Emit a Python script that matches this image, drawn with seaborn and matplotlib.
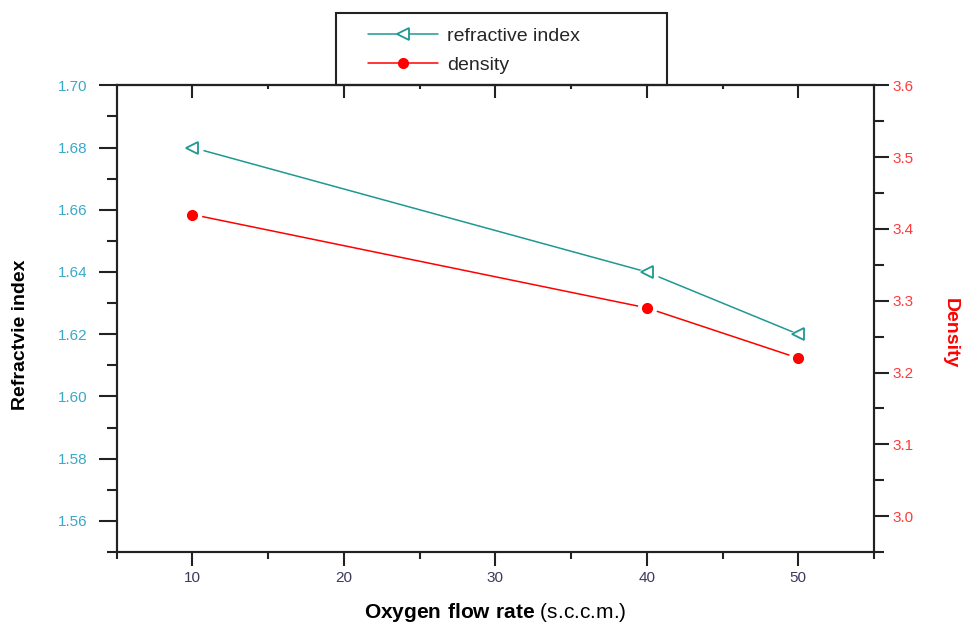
import matplotlib
matplotlib.use("Agg")
import matplotlib.pyplot as plt
import seaborn as sns
from matplotlib.ticker import MultipleLocator, FormatStrFormatter
from matplotlib.lines import Line2D
from matplotlib.patches import Rectangle

# Measured film properties versus oxygen flow rate
flow_rate = [10, 40, 50]
refractive_index = [1.68, 1.64, 1.62]
density = [3.42, 3.29, 3.22]

series_labels = ["refractive index", "density"]

sns.set_style("ticks")
plt.rcParams["font.family"] = ["Liberation Sans", "DejaVu Sans"]
plt.rcParams["mathtext.fontset"] = "custom"
plt.rcParams["mathtext.rm"] = "Liberation Sans"
plt.rcParams["mathtext.bf"] = "Liberation Sans:bold"

TEAL = "#1f9892"
RED = "#ff0000"
AXIS = "#222222"

fig = plt.figure(figsize=(9.62, 6.28), dpi=100)
ax = fig.add_axes([0.1213, 0.1210, 0.7872, 0.7432])
ax2 = ax.twinx()

# lines
sns.lineplot(x=flow_rate, y=refractive_index, ax=ax, color=TEAL, lw=1.1, zorder=2)
sns.lineplot(x=flow_rate, y=density, ax=ax2, color=RED, lw=1.1, zorder=2)

# white backing markers open a small gap in the line around each symbol
ax.plot(flow_rate, refractive_index, ls="none", marker="<", ms=16,
        mfc="white", mec="none", zorder=3)
ax.plot(flow_rate, refractive_index, ls="none", marker="<", ms=8.5,
        mfc="white", mec=TEAL, mew=1.3, zorder=4)
ax2.plot(flow_rate, density, ls="none", marker="o", ms=14,
         mfc="white", mec="none", zorder=3)
ax2.plot(flow_rate, density, ls="none", marker="o", ms=7,
         mfc=RED, mec=RED, zorder=4)

# limits and ticks
ax.set_xlim(5, 55)
ax.set_ylim(1.55, 1.70)
ax2.set_ylim(2.95, 3.6)

ax.xaxis.set_major_locator(MultipleLocator(10))
ax.xaxis.set_minor_locator(MultipleLocator(5))
ax.yaxis.set_major_locator(MultipleLocator(0.02))
ax.yaxis.set_minor_locator(MultipleLocator(0.01))
ax.yaxis.set_major_formatter(FormatStrFormatter("%.2f"))
ax2.yaxis.set_major_locator(MultipleLocator(0.1))
ax2.yaxis.set_minor_locator(MultipleLocator(0.05))
ax2.yaxis.set_major_formatter(FormatStrFormatter("%.1f"))

for a in (ax, ax2):
    for sp in a.spines.values():
        sp.set_visible(True)
        sp.set_color(AXIS)
        sp.set_linewidth(1.5)

ax.tick_params(axis="x", which="major", direction="out", length=10, width=1.5,
               color=AXIS, labelsize=11, labelcolor="#3a3a5c", pad=4)
ax.tick_params(axis="x", which="minor", direction="out", length=5, width=1.5, color=AXIS)
ax.tick_params(axis="y", which="major", direction="out", length=13, width=1.5,
               color=AXIS, labelsize=11, labelcolor="#3aa8c8", pad=8)
ax.tick_params(axis="y", which="minor", direction="out", length=7, width=1.5, color=AXIS)
ax2.tick_params(axis="y", which="major", direction="out", length=11, width=1.5,
                color=AXIS, labelsize=11, labelcolor="#ff3a3a", pad=2)
ax2.tick_params(axis="y", which="minor", direction="out", length=7, width=1.5, color=AXIS)

# inward ticks along the top edge
top = ax.secondary_xaxis("top")
top.xaxis.set_major_locator(MultipleLocator(10))
top.xaxis.set_minor_locator(MultipleLocator(5))
top.tick_params(which="major", direction="in", length=9, width=1.5, color=AXIS, labeltop=False)
top.tick_params(which="minor", direction="in", length=3, width=1.5, color=AXIS)
top.spines["top"].set_color(AXIS)
top.spines["top"].set_linewidth(1.5)

# axis titles
ax.set_xlabel(r"$\mathbf{Oxygen\ flow\ rate}$ (s.c.c.m.)", fontsize=15, color="black")
ax.xaxis.set_label_coords(0.5, -0.104)
ax.set_ylabel("Refractvie index", fontsize=14, fontweight="bold", color="black")
ax.yaxis.set_label_coords(-0.116, 0.465)
ax2.set_ylabel("Density", fontsize=14, fontweight="bold", color=RED,
               rotation=270, va="bottom")
ax2.yaxis.set_label_coords(1.089, 0.469)

# legend box sitting on top of the frame
fig.add_artist(Rectangle((336 / 962, 1 - 85.3 / 628), (667 - 336) / 962, (85.3 - 12.7) / 628,
                         transform=fig.transFigure, fill=False, ec=AXIS, lw=1.5))
handles = [
    Line2D([], [], color=TEAL, lw=1.1, marker="<", ms=8.5, mfc="white", mec=TEAL, mew=1.3),
    Line2D([], [], color=RED, lw=1.1, marker="o", ms=7, mfc=RED, mec=RED),
]
fig.legend(handles, series_labels, loc="upper left", bbox_to_anchor=(368 / 962, 1 - 27 / 628),
           frameon=False, fontsize=14, handlelength=3.6, handletextpad=0.45,
           labelspacing=0.62, borderpad=0, borderaxespad=0)

fig.savefig("out.png", dpi=100)
